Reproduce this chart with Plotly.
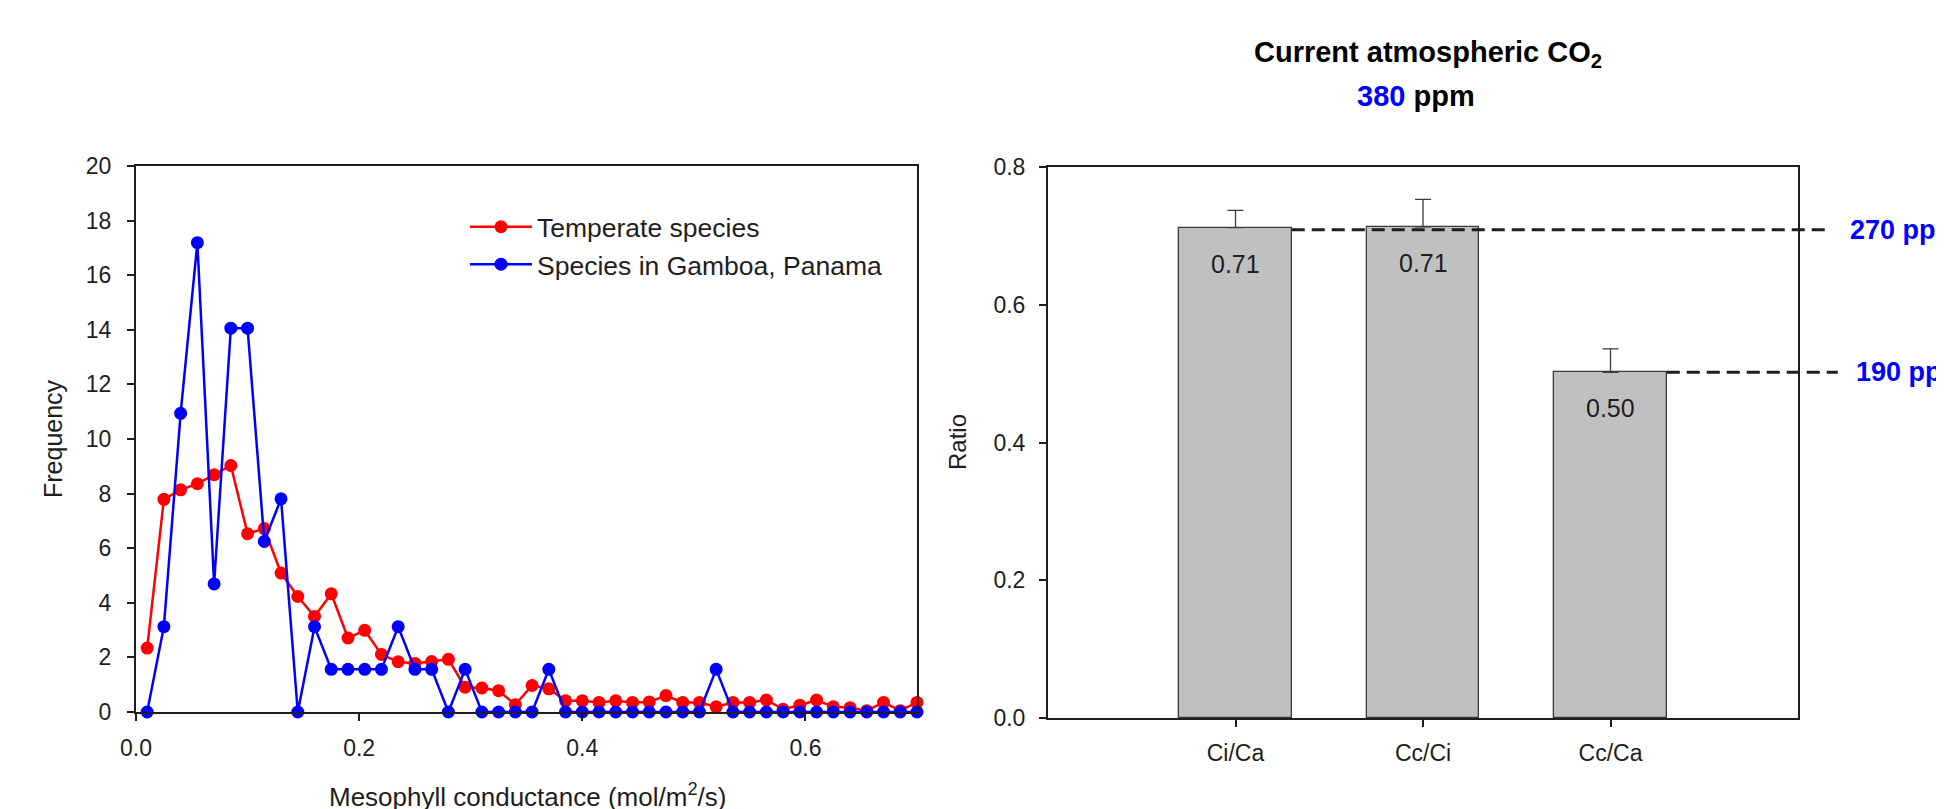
import plotly.graph_objects as go

# ---------------- data ----------------
gm_bins = [0.010, 0.025, 0.040, 0.055, 0.070, 0.085, 0.100, 0.115, 0.130, 0.145,
           0.160, 0.175, 0.190, 0.205, 0.220, 0.235, 0.250, 0.265, 0.280, 0.295,
           0.310, 0.325, 0.340, 0.355, 0.370, 0.385, 0.400, 0.415, 0.430, 0.445,
           0.460, 0.475, 0.490, 0.505, 0.520, 0.535, 0.550, 0.565, 0.580, 0.595,
           0.610, 0.625, 0.640, 0.655, 0.670, 0.685, 0.700]

temperate = [2.34, 7.79, 8.14, 8.36, 8.69, 9.03, 6.53, 6.72, 5.09, 4.23,
             3.50, 4.33, 2.71, 2.99, 2.11, 1.84, 1.78, 1.85, 1.93, 0.91,
             0.88, 0.78, 0.27, 0.97, 0.85, 0.41, 0.41, 0.35, 0.41, 0.35,
             0.37, 0.60, 0.35, 0.35, 0.19, 0.35, 0.35, 0.44, 0.10, 0.25,
             0.44, 0.19, 0.16, 0.05, 0.35, 0.05, 0.35]

gamboa = [0.0, 3.125, 10.94, 17.19, 4.69, 14.06, 14.06, 6.25, 7.81, 0.0,
          3.125, 1.5625, 1.5625, 1.5625, 1.5625, 3.125, 1.5625, 1.5625, 0.0, 1.5625,
          0.0, 0.0, 0.0, 0.0, 1.5625, 0.0, 0.0, 0.0, 0.0, 0.0,
          0.0, 0.0, 0.0, 0.0, 1.5625, 0.0, 0.0, 0.0, 0.0, 0.0,
          0.0, 0.0, 0.0, 0.0, 0.0, 0.0, 0.0]

series_names = ["Temperate species", "Species in Gamboa, Panama"]

left_xticks = [0.0, 0.2, 0.4, 0.6]
left_yticks = [0, 2, 4, 6, 8, 10, 12, 14, 16, 18, 20]

ratio_cats = ["Ci/Ca", "Cc/Ci", "Cc/Ca"]
ratio_vals = [0.712, 0.713, 0.502]
ratio_err = [0.025, 0.040, 0.034]
right_yticks = [0.0, 0.2, 0.4, 0.6, 0.8]

# reference lines: (category index of the bar they start from, level, label)
ref_from = [0, 2]
ref_levels = [0.709, 0.502]
ref_labels = ["270 ppm", "190 ppm"]

# ---------------- styling ----------------
FONT = "Liberation Sans, Arial, Helvetica, sans-serif"
INK = "#1e1e1e"
W, H = 1944, 809
OFF = 8  # page body margin offset (screen px)
bar_width = 0.6
x2_range = [-1, 3]


def px(xs):
    """screen x pixel -> paper fraction"""
    return (xs - OFF) / W


def py(ys):
    """screen y pixel (from top) -> paper fraction"""
    return (H - (ys - OFF)) / H


fig = go.Figure()

fig.add_trace(go.Scatter(
    x=gm_bins, y=temperate, name=series_names[0], mode="lines+markers",
    line=dict(color="#ff0000", width=2.5),
    marker=dict(color="#ff0000", size=13),
    cliponaxis=False, xaxis="x", yaxis="y"))
fig.add_trace(go.Scatter(
    x=gm_bins, y=gamboa, name=series_names[1], mode="lines+markers",
    line=dict(color="#0000ff", width=2.5),
    marker=dict(color="#0000ff", size=13),
    cliponaxis=False, xaxis="x", yaxis="y"))

fig.add_trace(go.Bar(
    x=ratio_cats, y=ratio_vals, width=bar_width,
    marker=dict(color="#c0c0c0", line=dict(color="#3a3a3a", width=1.3)),
    error_y=dict(type="data", array=ratio_err, arrayminus=[0] * len(ratio_err),
                 symmetric=False, color="#3a3a3a", thickness=1.3, width=8),
    showlegend=False, xaxis="x2", yaxis="y2"))

axis_common = dict(showline=True, linecolor=INK, linewidth=2, mirror=True,
                   ticks="outside", ticklen=7, tickwidth=2, tickcolor=INK,
                   showgrid=False, zeroline=False, automargin=False,
                   tickfont=dict(family=FONT, size=23, color=INK))

fig.update_layout(
    template="none",
    width=W, height=H,
    margin=dict(l=0, r=0, t=0, b=0, pad=0, autoexpand=False),
    paper_bgcolor="white", plot_bgcolor="white",
    font=dict(family=FONT, color=INK),
    xaxis=dict(domain=[px(136), px(917)], range=[0, 0.7], anchor="y",
               tickvals=left_xticks, ticktext=[f"{v:.1f}" for v in left_xticks],
               ticklabelstandoff=7, **axis_common),
    yaxis=dict(domain=[py(712), py(166)], range=[0, 20], anchor="x",
               tickvals=left_yticks, ticklabelstandoff=11, **axis_common),
    xaxis2=dict(domain=[px(1048), px(1798)], range=x2_range, anchor="y2",
                type="category", ticklabelstandoff=6, **axis_common),
    yaxis2=dict(domain=[py(718), py(167)], range=[0, 0.8], anchor="x2",
                tickvals=right_yticks, ticktext=[f"{v:.1f}" for v in right_yticks],
                ticklabelstandoff=9, **axis_common),
    legend=dict(x=px(465), y=py(203), xanchor="left", yanchor="top",
                bgcolor="rgba(0,0,0,0)", borderwidth=0, itemwidth=62,
                font=dict(family=FONT, size=26.5, color=INK), tracegroupgap=0),
    bargap=0,
    showlegend=True,
)


def x2_domain(v):
    return (v - x2_range[0]) / (x2_range[1] - x2_range[0])


line_ends = [1.045, 1.053]
label_pos = [1.067, 1.075]
for i, (idx, lev, lab) in enumerate(zip(ref_from, ref_levels, ref_labels)):
    fig.add_shape(type="line", xref="x2 domain", yref="y2",
                  x0=x2_domain(idx + bar_width / 2), x1=line_ends[i], y0=lev, y1=lev,
                  line=dict(color=INK, width=3, dash="13px,7px"))
    fig.add_annotation(xref="x2 domain", yref="y2", x=label_pos[i], y=lev,
                       text=f"<b>{lab}</b>", showarrow=False, xanchor="left",
                       yanchor="middle",
                       font=dict(family=FONT, size=27, color="#0000ff"))

# value labels inside bars
for c, v in zip(ratio_cats, ratio_vals):
    fig.add_annotation(xref="x2", yref="y2", x=c, y=v, text=f"{v:.2f}",
                       showarrow=False, yanchor="top", yshift=-20,
                       font=dict(family=FONT, size=25, color=INK))

# titles
fig.add_annotation(xref="paper", yref="paper", x=px(1428), y=py(54),
                   text="<b>Current atmospheric CO<sub>2</sub></b>", showarrow=False,
                   xanchor="center", yanchor="middle",
                   font=dict(family=FONT, size=29, color="black"))
fig.add_annotation(xref="paper", yref="paper", x=px(1416), y=py(96),
                   text="<b><span style='color:#0000ff'>380</span> ppm</b>",
                   showarrow=False, xanchor="center", yanchor="middle",
                   font=dict(family=FONT, size=29, color="black"))

# axis titles
fig.add_annotation(xref="paper", yref="paper", x=px(53), y=py(439),
                   text="Frequency", textangle=-90, showarrow=False,
                   xanchor="center", yanchor="middle",
                   font=dict(family=FONT, size=25, color=INK))
fig.add_annotation(xref="paper", yref="paper", x=px(957), y=py(442),
                   text="Ratio", textangle=-90, showarrow=False,
                   xanchor="center", yanchor="middle",
                   font=dict(family=FONT, size=24, color=INK))
fig.add_annotation(xref="paper", yref="paper", x=px(527), y=py(795),
                   text="Mesophyll conductance (mol/m<sup>2</sup>/s)", showarrow=False,
                   xanchor="center", yanchor="middle",
                   font=dict(family=FONT, size=26, color=INK))

fig.write_html("out.html")
